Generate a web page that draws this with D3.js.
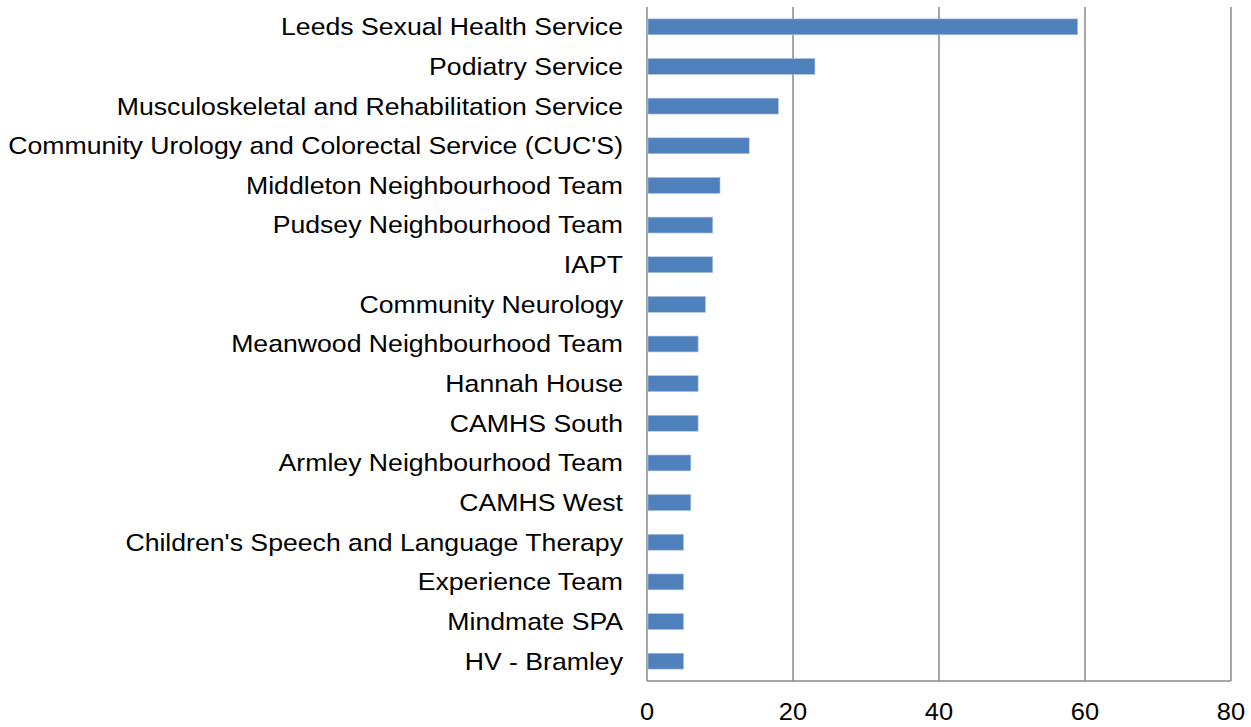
<!DOCTYPE html>
<html><head><meta charset="utf-8">
<script src="https://cdn.jsdelivr.net/npm/d3@7"></script>
<style>body{margin:0;background:#fff}svg{display:block}text{font-family:"Liberation Sans",Arial,sans-serif;fill:#000}</style>
</head><body>
<svg id="c" width="1251" height="727"></svg>
<script>
const categories = ["Leeds Sexual Health Service","Podiatry Service","Musculoskeletal and Rehabilitation Service","Community Urology and Colorectal Service (CUC'S)","Middleton Neighbourhood Team","Pudsey Neighbourhood Team","IAPT","Community Neurology","Meanwood Neighbourhood Team","Hannah House","CAMHS South","Armley Neighbourhood Team","CAMHS West","Children's Speech and Language Therapy","Experience Team","Mindmate SPA","HV - Bramley"];
const values = [59,23,18,14,10,9,9,8,7,7,7,6,6,5,5,5,5];
const xTicks = [0,20,40,60,80];

const svg = d3.select("#c");
const m = {left:647, right:1231, top:7, bottom:681};
const x = d3.scaleLinear().domain([0,80]).range([m.left,m.right]);
const y = d3.scaleBand().domain(categories).range([m.top,m.bottom]).paddingInner(0.6).paddingOuter(0.3);

// gridlines
svg.append("g").selectAll("line").data(xTicks).join("line")
  .attr("x1",d=>x(d)).attr("x2",d=>x(d)).attr("y1",m.top).attr("y2",m.bottom)
  .attr("stroke","#888").attr("stroke-width",1.5);
// bottom axis line
svg.append("line").attr("x1",m.left).attr("x2",m.right).attr("y1",m.bottom).attr("y2",m.bottom)
  .attr("stroke","#888").attr("stroke-width",1.5);

// bars
svg.append("g").selectAll("rect").data(values).join("rect")
  .attr("x",x(0)+1).attr("y",(d,i)=>y(categories[i]))
  .attr("width",d=>x(d)-x(0)-1).attr("height",y.bandwidth())
  .attr("fill","#4f81bd").attr("stroke","#a9c0e0").attr("stroke-width",0.6);

// category labels
svg.append("g").selectAll("text").data(categories).join("text")
  .attr("transform",d=>`translate(623,${y(d)+y.bandwidth()/2}) scale(1.11,1)`)
  .attr("dy","0.35em")
  .attr("text-anchor","end").attr("font-size",24).text(d=>d);

// tick labels
svg.append("g").selectAll("text").data(xTicks).join("text")
  .attr("transform",d=>`translate(${x(d)},712) scale(1.06,1)`).attr("dy","0.35em")
  .attr("text-anchor","middle").attr("font-size",24).text(d=>d);
</script>
</body></html>
